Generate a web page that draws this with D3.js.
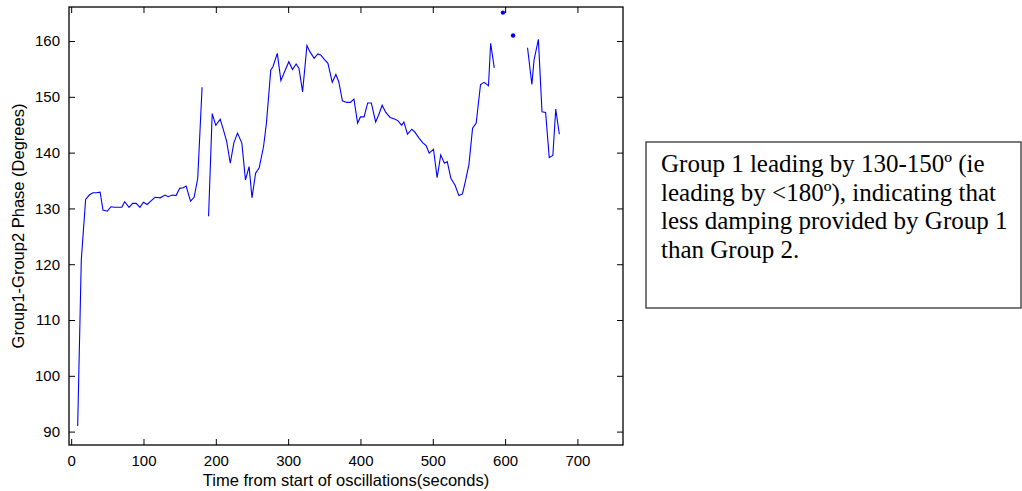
<!DOCTYPE html>
<html>
<head>
<meta charset="utf-8">
<script src="https://cdn.jsdelivr.net/npm/d3@7"></script>
<style>
  body { margin: 0; background: #fff; }
  .tick text { font-family: "Liberation Sans", Arial, sans-serif; font-size: 15px; fill: #000; }
  .tick line { stroke: #000; }
</style>
</head>
<body>
<script>
// Data (time in seconds, phase in degrees; null = gap)
var timeSec = [9, 14, 20, 25, 30, 35, 40, 44, 50, 55, 60, 65, 70, 74, 80, 85, 90, 95, 100, 105,
  110, 116, 123, 130, 134, 140, 145, 150, 155, 159, 165, 170, 175, 181, 185,
  190, 195, 200, 206, 210, 215, 220, 225, 230, 236, 241, 246, 250, 255, 260, 266, 270, 276, 279, 285,
  290, 296, 301, 306, 311, 315, 320, 326, 330, 336, 341, 345, 350, 355, 361, 366, 370, 375, 381, 386,
  391, 396, 400, 405, 410, 415, 421, 425, 430, 435, 441, 448, 452, 457, 460, 465, 471, 475, 481, 486,
  491, 495, 501, 506, 511, 516, 520, 525, 531, 536, 541, 545, 550, 555, 560, 566, 571, 577, 580, 585,
  600, 631, 637, 640, 646, 651, 656, 661, 666, 670, 675];
var phaseDeg = [91.0, 120.8, 131.6, 132.4, 132.8, 132.8, 132.9, 129.7, 129.5, 130.3, 130.2, 130.2, 130.2, 131.2, 130.2, 130.9, 130.9, 130.2, 131.1, 130.7,
  131.3, 132.0, 131.9, 132.4, 132.1, 132.4, 132.3, 133.6, 133.7, 134.0, 131.3, 132.0, 135.4, 151.7, null,
  128.6, 147.0, 144.9, 146.0, 144.3, 142.0, 138.1, 141.8, 143.5, 141.7, 135.1, 137.5, 131.9, 136.3, 137.3, 141.1, 145.3, 154.8, 155.4, 157.8,
  152.9, 154.8, 156.3, 154.9, 155.9, 155.1, 150.9, 159.2, 158.1, 156.9, 157.7, 157.5, 156.7, 156.0, 152.6, 154.0, 152.7, 149.3, 149.0, 149.0,
  149.6, 145.3, 146.4, 146.4, 148.9, 148.9, 145.5, 146.7, 148.5, 147.2, 146.3, 146.0, 145.7, 144.9, 145.5, 143.3, 144.2, 143.7, 142.6, 141.8,
  141.2, 139.9, 140.6, 135.5, 139.6, 138.1, 138.4, 135.4, 134.1, 132.3, 132.6, 134.8, 137.9, 144.4, 145.3, 152.2, 152.6, 152.0, 159.6, 155.2,
  null, 158.8, 152.2, 156.6, 160.3, 147.3, 147.2, 139.1, 139.5, 147.8, 143.3];
// isolated samples shown as dots
var dotTime = [597, 611];
var dotPhase = [165.1, 161.0];

var xTicks = [0, 100, 200, 300, 400, 500, 600, 700];
var yTicks = [90, 100, 110, 120, 130, 140, 150, 160];
var xLabel = "Time from start of oscillations(seconds)";
var yLabel = "Group1-Group2 Phase (Degrees)";
var noteLines = ["Group 1 leading by 130-150\u00ba (ie",
  "leading by <180\u00ba), indicating that",
  "less damping provided by Group 1",
  "than Group 2."];

// Size
var width = 1022, height = 491;
var plot = {left: 69, right: 623, top: 7, bottom: 445};

var svg = d3.select("body").append("svg")
  .attr("width", width)
  .attr("height", height);

var x = d3.scaleLinear().domain([-3, 763]).range([plot.left, plot.right]);
var y = d3.scaleLinear().domain([87.6, 166.1]).range([plot.bottom, plot.top]);

// axes, MATLAB style: ticks pointing inwards on all four sides
svg.append("g")
  .attr("transform", "translate(0," + plot.bottom + ")")
  .call(d3.axisBottom(x).tickValues(xTicks).tickSizeInner(-6).tickSizeOuter(0).tickPadding(10))
  .call(function (g) { g.select(".domain").remove(); });
svg.append("g")
  .attr("transform", "translate(0," + plot.top + ")")
  .call(d3.axisTop(x).tickValues(xTicks).tickSizeInner(-6).tickSizeOuter(0).tickFormat(""))
  .call(function (g) { g.select(".domain").remove(); });
svg.append("g")
  .attr("transform", "translate(" + plot.left + ",0)")
  .call(d3.axisLeft(y).tickValues(yTicks).tickSizeInner(-6).tickSizeOuter(0).tickPadding(9))
  .call(function (g) { g.select(".domain").remove(); });
svg.append("g")
  .attr("transform", "translate(" + plot.right + ",0)")
  .call(d3.axisRight(y).tickValues(yTicks).tickSizeInner(-6).tickSizeOuter(0).tickFormat(""))
  .call(function (g) { g.select(".domain").remove(); });

// box
svg.append("rect")
  .attr("x", plot.left)
  .attr("y", plot.top)
  .attr("width", plot.right - plot.left)
  .attr("height", plot.bottom - plot.top)
  .attr("fill", "none")
  .attr("stroke", "#000")
  .attr("stroke-width", 1.3);

// phase line
var points = timeSec.map(function (t, i) { return {t: t, v: phaseDeg[i]}; });
var line = d3.line()
  .defined(function (d) { return d.v != null; })
  .x(function (d) { return x(d.t); })
  .y(function (d) { return y(d.v); });
svg.append("path")
  .datum(points)
  .attr("d", line)
  .attr("fill", "none")
  .attr("stroke", "#0000ff")
  .attr("stroke-width", 1.1);

svg.selectAll("circle.dot")
  .data(dotTime)
  .enter().append("circle")
  .attr("class", "dot")
  .attr("cx", function (d) { return x(d); })
  .attr("cy", function (d, i) { return y(dotPhase[i]); })
  .attr("r", 2.2)
  .attr("fill", "#0000ff");

// axis labels
svg.append("text")
  .attr("x", (plot.left + plot.right) / 2)
  .attr("y", 486)
  .attr("text-anchor", "middle")
  .style("font-family", "Liberation Sans, Arial, sans-serif")
  .style("font-size", "16.5px")
  .text(xLabel);
svg.append("text")
  .attr("transform", "translate(24," + (plot.top + plot.bottom) / 2 + ") rotate(-90)")
  .attr("text-anchor", "middle")
  .style("font-family", "Liberation Sans, Arial, sans-serif")
  .style("font-size", "16.5px")
  .text(yLabel);

// note box
svg.append("rect")
  .attr("x", 646)
  .attr("y", 142)
  .attr("width", 375)
  .attr("height", 166)
  .attr("fill", "none")
  .attr("stroke", "#333")
  .attr("stroke-width", 1.3);
svg.append("g").selectAll("text")
  .data(noteLines)
  .enter().append("text")
  .attr("x", 661)
  .attr("y", function (d, i) { return 172 + i * 28.5; })
  .style("font-family", "Liberation Serif, Times New Roman, serif")
  .style("font-size", "25px")
  .text(function (d) { return d; });
</script>
</body>
</html>
